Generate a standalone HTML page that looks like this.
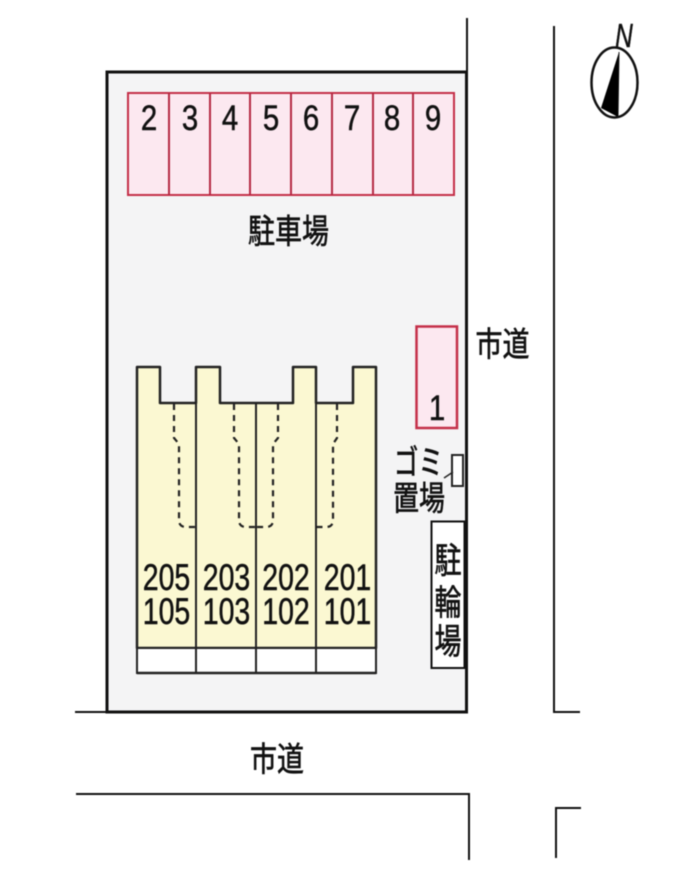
<!DOCTYPE html>
<html><head><meta charset="utf-8"><style>
html,body{margin:0;padding:0;background:#fff}
svg{display:block;filter:blur(.5px)}
.n{font-family:"Liberation Sans",sans-serif;fill:#111;text-anchor:middle;stroke:#111;stroke-width:.5px}
.j{font-family:"Liberation Sans","Noto Sans CJK JP",sans-serif;fill:#111;text-anchor:middle;stroke:#111;stroke-width:.5px}
</style></head><body>
<svg width="700" height="872" viewBox="0 0 700 872" xmlns="http://www.w3.org/2000/svg">
<rect width="700" height="872" fill="#fff"/>
<!-- roads -->
<g fill="none" stroke="#111" stroke-width="2">
<path d="M467 18V71"/>
<path d="M554 26V712H580"/>
<path d="M75 712H106"/>
<path d="M76 794H469V860"/>
<path d="M581 808H556V858"/>
</g>
<!-- lot -->
<rect x="107" y="72" width="359.500" height="640" fill="#f4f4f5" stroke="#111" stroke-width="3"/>
<!-- parking -->
<rect x="128" y="93" width="326" height="102" fill="#fce8f0" stroke="#c42f48" stroke-width="2"/>
<path d="M169 93V195M210 93V195M250 93V195M291 93V195M332 93V195M373 93V195M413 93V195" stroke="#b52b45" stroke-width="2" fill="none"/>
<rect x="416.500" y="326.500" width="40.500" height="101.500" fill="#fce8f0" stroke="#c42f48" stroke-width="2.500"/>
<g class="n" font-size="35">
<text transform="translate(149 130) scale(.84 1)">2</text>
<text transform="translate(190 130) scale(.84 1)">3</text>
<text transform="translate(230 130) scale(.84 1)">4</text>
<text transform="translate(271 130) scale(.84 1)">5</text>
<text transform="translate(311 130) scale(.84 1)">6</text>
<text transform="translate(352 130) scale(.84 1)">7</text>
<text transform="translate(392 130) scale(.84 1)">8</text>
<text transform="translate(433 130) scale(.84 1)">9</text>
<text transform="translate(437 420) scale(.84 1)">1</text>
</g>
<!-- building -->
<path d="M137 367H160V403H196V367H220V403H293V367H316V403H353V367H376V648H137Z" fill="#fbf8d2" stroke="#222" stroke-width="2.500" stroke-linejoin="round"/>
<rect x="137" y="648" width="239" height="25" fill="#fff" stroke="#222" stroke-width="2"/>
<path d="M137 673H376" stroke="#222" stroke-width="2.500"/>
<path d="M196 403V673M256 403V673M316 403V673" stroke="#222" stroke-width="2" fill="none"/>
<g fill="none" stroke="#222" stroke-width="2.200" stroke-dasharray="6 5">
<path d="M174 404V438L179 444V520Q179 527 186 527H196"/>
<path d="M234 404V438L239 444V520Q239 527 246 527H256"/>
<path d="M278 404V438L273 444V520Q273 527 266 527H256"/>
<path d="M337 404V438L333 444V520Q333 527 326 527H316"/>
</g>
<g class="n" font-size="37">
<text transform="translate(166.500 590) scale(.77 1)">205</text>
<text transform="translate(226.500 590) scale(.77 1)">203</text>
<text transform="translate(286 590) scale(.77 1)">202</text>
<text transform="translate(347.500 590) scale(.77 1)">201</text>
<text transform="translate(166.500 624) scale(.77 1)">105</text>
<text transform="translate(226.500 624) scale(.77 1)">103</text>
<text transform="translate(286 624) scale(.77 1)">102</text>
<text transform="translate(347.500 624) scale(.77 1)">101</text>
</g>
<!-- labels -->
<g class="j" font-size="27">
<text transform="translate(288.500 243) scale(1 1.25)">駐車場</text>
<text transform="translate(502.500 356) scale(1 1.25)">市道</text>
<text transform="translate(277 771) scale(1 1.25)">市道</text>
<text transform="translate(418.500 474) scale(.95 1.3)" font-size="26">ゴミ</text>
<text transform="translate(419 510) scale(1 1.3)" font-size="26">置場</text>
</g>
<!-- garbage box -->
<rect x="452" y="455" width="11" height="31" fill="#fff" stroke="#222" stroke-width="2"/>
<path d="M444 478L453 472" stroke="#222" stroke-width="1.500"/>
<!-- bike -->
<rect x="431.500" y="521.500" width="33" height="146.500" fill="#fff" stroke="#111" stroke-width="2"/>
<path d="M465 521V668" stroke="#111" stroke-width="3"/>
<g class="j" font-size="27">
<text transform="translate(448 573) scale(1 1.3)">駐</text>
<text transform="translate(448 615) scale(1 1.3)">輪</text>
<text transform="translate(448 654) scale(1 1.3)">場</text>
</g>
<!-- compass -->
<ellipse cx="614.500" cy="82.500" rx="23" ry="35" fill="#fff" stroke="#111" stroke-width="2.500"/>
<path d="M619 52L601 108L618 117Z" fill="#000"/>
<path d="M619 52L618 117" stroke="#111" stroke-width="1"/>
<text class="n" font-size="34" font-style="italic" transform="translate(624 47) scale(.72 .98)">N</text>
</svg>
</body></html>
